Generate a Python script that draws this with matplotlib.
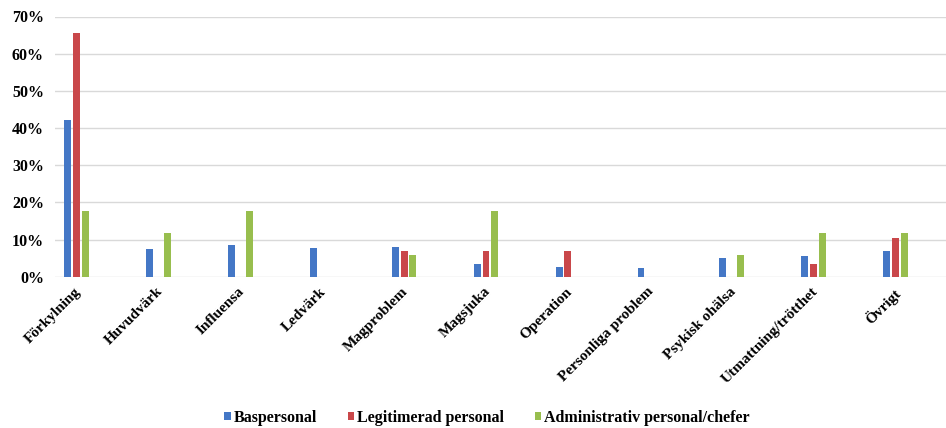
import matplotlib
matplotlib.use("Agg")
import matplotlib.pyplot as plt
import numpy as np
from matplotlib.patches import Patch
from matplotlib.ticker import FuncFormatter

categories = [
    "Förkylning", "Huvudvärk", "Influensa", "Ledvärk", "Magproblem", "Magsjuka",
    "Operation", "Personliga problem", "Psykisk ohälsa", "Utmattning/trötthet", "Övrigt",
]
series_names = ["Baspersonal", "Legitimerad personal", "Administrativ personal/chefer"]
baspersonal = [0.422, 0.074, 0.085, 0.078, 0.081, 0.034, 0.027, 0.023, 0.049, 0.055, 0.070]
legitimerad = [0.655, 0.0, 0.0, 0.0, 0.069, 0.069, 0.069, 0.0, 0.0, 0.034, 0.103]
administrativ = [0.176, 0.118, 0.176, 0.0, 0.059, 0.176, 0.0, 0.0, 0.059, 0.118, 0.118]
colors = ["#4477C6", "#C9474A", "#98BE4E"]

W, H = 946, 428
fig = plt.figure(figsize=(W / 100, H / 100), dpi=100)
ax = fig.add_axes([55 / W, 1 - 276.7 / H, 891 / W, 260.2 / H])

x = np.arange(len(categories))
step = 0.107
width = 0.085
for i, (vals, col) in enumerate(zip([baspersonal, legitimerad, administrativ], colors)):
    ax.bar(x + (i - 1) * step, vals, width, color=col, zorder=3)

ax.set_xlim(-0.2625, 10.617)
ax.set_ylim(0, 0.70)
ax.set_yticks(np.arange(0, 0.71, 0.1))
ax.yaxis.set_major_formatter(FuncFormatter(lambda v, p: f"{v * 100:.0f}%"))
ax.grid(axis="y", color="#D9D9D9", linewidth=1.0, zorder=0)
for s in ax.spines.values():
    s.set_visible(False)
ax.tick_params(axis="both", length=0)
ax.tick_params(axis="y", pad=8)

for lab in ax.get_yticklabels():
    lab.set(family="Liberation Serif", weight="bold", size=11.5)

ax.set_xticks(x - 0.03)
ax.set_xticklabels(categories, rotation=45, ha="right", va="top",
                   rotation_mode="anchor", fontsize=11,
                   family="Liberation Serif", weight="bold")
ax.tick_params(axis="x", pad=6)

handles = [Patch(facecolor=c, edgecolor="none") for c in colors]
fig.legend(handles, series_names, loc="center", bbox_to_anchor=(487 / W, 1 - 418 / H),
           ncol=3, frameon=False, handlelength=0.4, handleheight=0.4,
           handletextpad=0.2, columnspacing=1.9,
           prop=dict(family="Liberation Serif", weight="bold", size=11.5))

fig.savefig("out.png", dpi=100)
